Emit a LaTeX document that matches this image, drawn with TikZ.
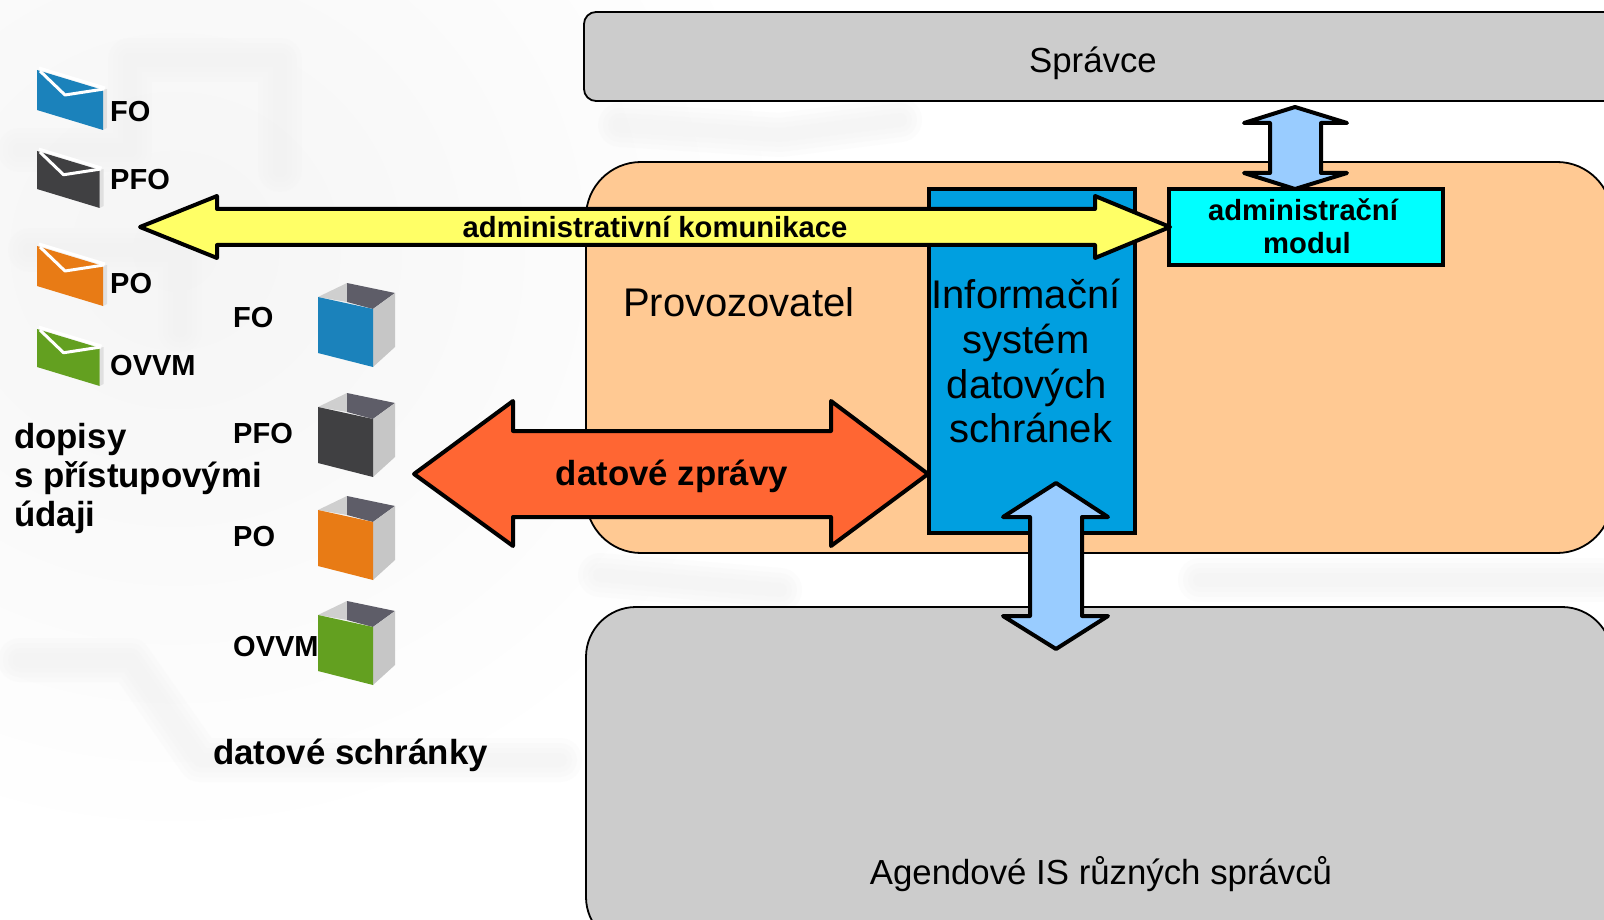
\documentclass[tikz,border=0pt]{standalone}
\usepackage{fontspec}
\setmainfont{Liberation Sans}
\definecolor{grayBox}{HTML}{CCCCCC}
\definecolor{peach}{HTML}{FFC993}
\definecolor{isBlue}{HTML}{009FE0}
\definecolor{modCyan}{HTML}{00FFFF}
\definecolor{yel}{HTML}{FFFF66}
\definecolor{red1}{HTML}{FF6633}
\definecolor{ltBlue}{HTML}{99CCFF}
\definecolor{cFO}{HTML}{1B82BB}
\definecolor{cPFO}{HTML}{404042}
\definecolor{cPO}{HTML}{E87B15}
\definecolor{cOV}{HTML}{63A020}
\definecolor{inDark}{HTML}{5E5D68}
\definecolor{inLight}{HTML}{CFCFCF}
\definecolor{sideG}{HTML}{C6C6C6}
\newcommand{\fsz}[1]{\fontsize{#1}{#1}\selectfont}
\newcommand{\envel}[4]{% x, y, scale, colour
 \begin{scope}[shift={(#1,#2)},xscale=#3,yscale=#3]
  \fill[black!12] (66,20) -- (70,19) -- (70,58) -- (66,60) -- cycle;
  \fill[#4] (0,0) -- (66,20) -- (66,60) -- (0,40) -- cycle;
  \draw[white,line width=3pt,line join=round] (2,-2) -- (68,18);
  \draw[white,line width=3pt,line join=round] (3,1) -- (28,25) -- (67,19);
 \end{scope}}
\newcommand{\boxy}[2]{% y offset, colour
 \begin{scope}[shift={(0,#1)}]
  \fill[inLight] (318,297) -- (347,283) -- (347,302) -- cycle;
  \fill[inDark] (347,283) -- (395,293) -- (373,309) -- (347,302) -- cycle;
  \fill[sideG] (373,309) -- (395,293) -- (395,347) -- (373,367) -- cycle;
  \fill[#2] (318,297) -- (373,309) -- (373,367) -- (318,353) -- cycle;
 \end{scope}}
\newcommand{\soft}[1]{%
 \foreach \w in {44,34,24,14}{\draw[black!5,opacity=.22,line width=\w pt,line cap=round,line join=round] #1;}}
\tikzset{
 lane/.style={draw=black,line width=1.8pt,anchor=north west,inner sep=0pt,outer sep=0pt},
 solid box/.style={draw=black,line width=3.4pt,anchor=north west,inner sep=0pt,outer sep=0pt},
 bigarrow/.style={draw=black,line width=4pt,line join=round},
 smallarrow/.style={draw=black,line width=4pt,line join=round,fill=ltBlue},
 lbl/.style={font=\bfseries\fsz{29},anchor=base west,inner sep=0pt},
 head/.style={font=\bfseries\fsz{34.8},anchor=base west,inner sep=0pt},
 plain/.style={font=\fsz{34.8},inner sep=0pt},
 istext/.style={inner sep=0pt,anchor=base,font=\fsz{40}},
 modtext/.style={inner sep=0pt,anchor=base,font=\bfseries\fsz{29.2}}
}
\begin{document}
\begin{tikzpicture}[x=1pt,y=-1pt]
\useasboundingbox (0,0) rectangle (1604,920);
\clip (0,0) rectangle (1604,920);
\fill[white] (0,0) rectangle (1604,920);
\shade[inner color=black!4,outer color=white] (-450,-350) rectangle (800,850);
\soft{(20,150) -- (130,150) -- (130,60) -- (280,60) -- (280,170)}
\soft{(30,250) -- (180,250) -- (180,330)}
\soft{(20,660) -- (130,660) -- (200,760) -- (560,760)}
\soft{(620,125) -- (780,135) -- (900,120)}
\soft{(600,575) -- (780,590)}
\soft{(1200,580) -- (1600,580)}
% lanes
\node[lane,fill=grayBox,minimum width=1040pt,minimum height=89pt,rounded corners=12pt] (spravce) at (584,12) {};
\node[lane,fill=peach,minimum width=1026pt,minimum height=391pt,rounded corners=55pt] (prov) at (586,162) {};
\node[lane,fill=grayBox,minimum width=1026pt,minimum height=340pt,rounded corners=50pt] (agenda) at (586,607) {};
\node[plain,anchor=base] (tSpravce) at (1093,73) {Správce};
\node[plain,font=\fsz{40},anchor=base west] (tProv) at (623,316) {Provozovatel};
\node[plain,anchor=base] (tAgenda) at (1101,884) {Agendové IS různých správců};
% IS box
\node[solid box,fill=isBlue,minimum width=206pt,minimum height=344pt] (is) at (929,189) {};
\node[istext] (is1) at (1026,308) {Informační};
\node[istext] (is2) at (1026,353) {systém};
\node[istext] (is3) at (1027,398) {datových};
\node[istext] (is4) at (1031,442) {schránek};
% top arrow
\coordinate (topA) at (1295,107);
\coordinate (topB) at (1295,189);
\draw[smallarrow] (topA) -- (1347,123) -- (1321,123) -- (1321,173) -- (1347,173) -- (topB) -- (1244,173) -- (1270,173) -- (1270,123) -- (1244,123) -- cycle;
% admin module
\node[solid box,fill=modCyan,minimum width=274pt,minimum height=76pt] (mod) at (1169,189) {};
\node[modtext] (mod1) at (1303,221) {administrační};
\node[modtext] (mod2) at (1307,254) {modul};
% yellow arrow
\coordinate (yL) at (140,227);
\coordinate (yR) at (1170,227);
\draw[bigarrow,fill=yel] (yL) -- (217,196) -- (217,209) -- (1095,209) -- (1095,196) -- (yR) -- (1095,258) -- (1095,245) -- (217,245) -- (217,258) -- cycle;
\node[modtext] (tAdm) at (655,238) {administrativní komunikace};
% red arrow
\coordinate (rL) at (414,474);
\coordinate (rR) at (928,474);
\draw[bigarrow,fill=red1] (rL) -- (513,401) -- (513,431) -- (831,431) -- (831,401) -- (rR) -- (831,546) -- (831,517) -- (513,517) -- (513,546) -- cycle;
\node[inner sep=0pt,anchor=base,font=\bfseries\fsz{34.8}] (tDat) at (672,485) {datové zprávy};
% bottom arrow
\coordinate (bA) at (1056,483);
\coordinate (bB) at (1056,649);
\draw[smallarrow] (bA) -- (1108,517) -- (1082,517) -- (1082,616) -- (1108,616) -- (bB) -- (1003,616) -- (1030,616) -- (1030,517) -- (1003,517) -- cycle;
% envelopes
\envel{37}{70}{1}{cFO}
\envel{37}{151}{.95}{cPFO}
\envel{37}{246}{1}{cPO}
\envel{37}{329}{.95}{cOV}
\node[lbl] (lF1) at (110,122) {FO};
\node[lbl] (lP1) at (110,190) {PFO};
\node[lbl] (lO1) at (110,293) {PO};
\node[lbl] (lV1) at (110,375) {OVVM};
% boxes
\boxy{0}{cFO}
\boxy{110}{cPFO}
\boxy{213}{cPO}
\boxy{318}{cOV}
\node[lbl] (lF2) at (233,327) {FO};
\node[lbl] (lP2) at (233,443) {PFO};
\node[lbl] (lO2) at (233,546) {PO};
\node[lbl] (lV2) at (233,656) {OVVM};
% captions
\node[head] (d1) at (14,448) {dopisy};
\node[head] (d2) at (14,487) {s přístupovými};
\node[head] (d3) at (14,526) {údaji};
\node[head] (ds) at (213,764) {datové schránky};
\end{tikzpicture}
\end{document}
